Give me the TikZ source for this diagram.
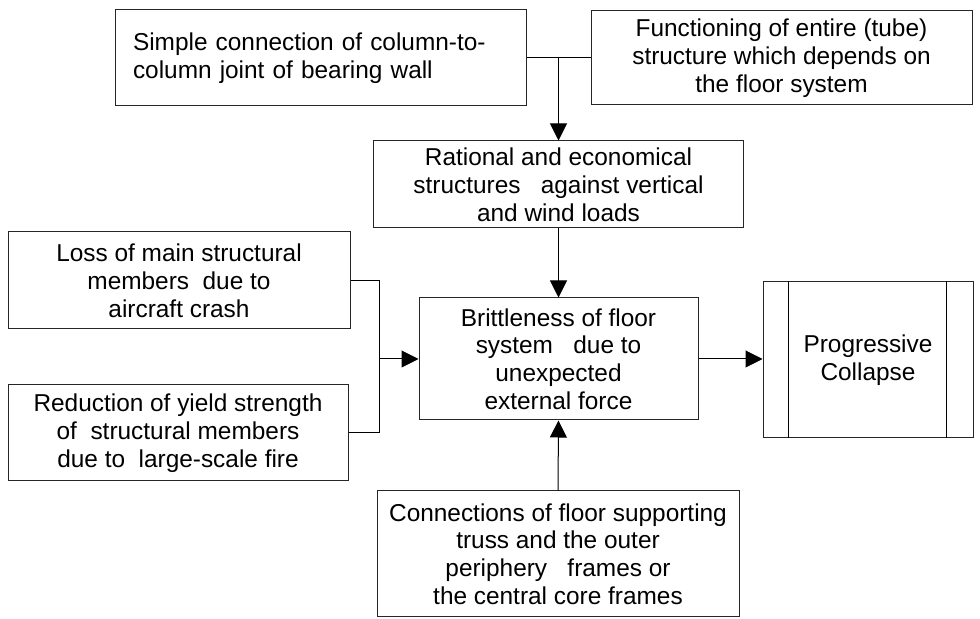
\documentclass[tikz,border=0pt]{standalone}
\usepackage{fontspec}
\setmainfont{Liberation Sans}
\usetikzlibrary{arrows.meta,positioning,calc}
\tikzset{
  flowbox/.style={draw=black!85, line width=0.5pt, fill=white, inner sep=0pt,
                  align=center, font=\fontsize{12.2pt}{13.9pt}\selectfont},
  arr/.style={-{Triangle[length=8.5pt, width=8.5pt]}, line width=0.5pt, color=black},
  link/.style={line width=0.5pt, color=black}}
\begin{document}
\begin{tikzpicture}[x=0.5pt, y=-0.5pt]
    \useasboundingbox (0,0) rectangle (980,619);
    % top row
    \node[flowbox, minimum width=205.5pt, minimum height=48pt, text width=187.5pt,
          align=left] (simple) at (320.5,58)
      {Simple connection of column-to-\\column joint of bearing wall};
    \node[flowbox, minimum width=190.5pt, minimum height=47pt] (tube) at (781.5,58)
      {Functioning of entire (tube)\\structure which depends on\\the floor system};
    \node[flowbox, minimum width=185pt, minimum height=43.5pt] (rational) at (558.5,184.5)
      {Rational and economical\\structures\ \ \ against vertical\\and wind loads};
    % left causes
    \node[flowbox, minimum width=171pt, minimum height=48.5pt] (loss) at (179,280.5)
      {Loss of main structural\\members\ \ due to\\aircraft crash};
    \node[flowbox, minimum width=170pt, minimum height=48pt] (fire) at (178,433)
      {Reduction of yield strength\\of\ \ structural members\\due to\ \ large-scale fire};
    % centre and result
    \node[flowbox, minimum width=139.5pt, minimum height=61pt] (brittle) at (558.5,359)
      {Brittleness of floor\\system\ \ \ due to\\unexpected\\external force};
    \node[flowbox, minimum width=105pt, minimum height=78pt] (collapse) at (868,360)
      {Progressive\\Collapse};
    \draw[link] ([xshift=13pt]collapse.north west) -- ([xshift=13pt]collapse.south west);
    \draw[link] ([xshift=-13.5pt]collapse.north east) -- ([xshift=-13.5pt]collapse.south east);
    \node[flowbox, minimum width=181pt, minimum height=63pt] (truss) at (558,554)
      {Connections of floor supporting\\truss and the outer\\periphery\ \ \ frames or\\the central core frames};
    % connectors
    \draw[link] (simple.east) -- (tube.west);
    \draw[arr] (simple.east -| rational.north) -- (rational.north);
    \draw[arr] (rational.south) -- (brittle.north);
    \coordinate (merge) at (379,359);
    \draw[link] (loss.east) -| (merge);
    \draw[link] (fire.east) -| (merge);
    \draw[arr] (merge) -- (brittle.west);
    \draw[arr] (truss.north) -- (brittle.south);
    \draw[arr] (brittle.east) -- (brittle.east -| collapse.west);
\end{tikzpicture}
\end{document}
